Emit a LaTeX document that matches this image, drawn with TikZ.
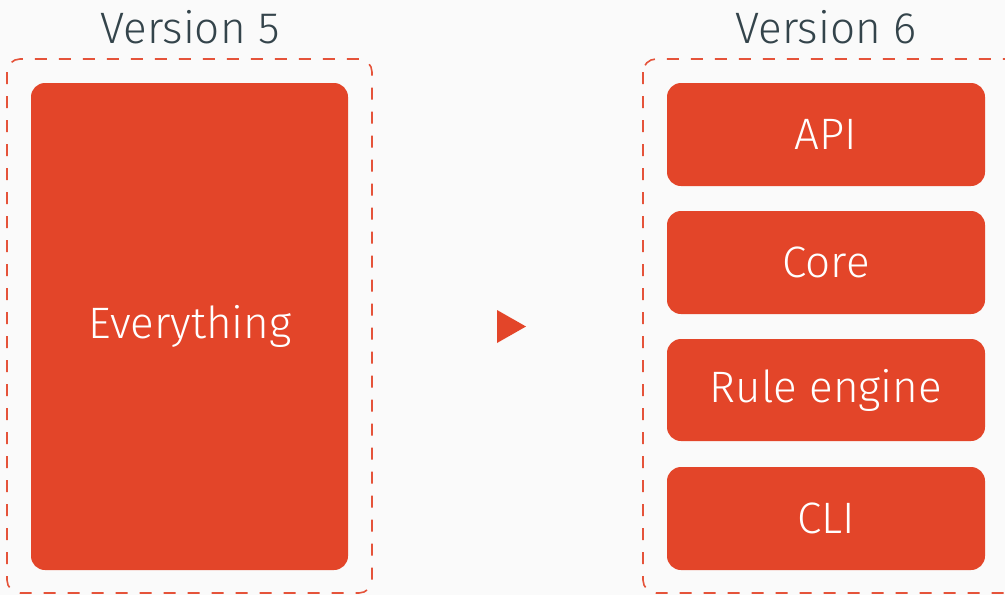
\documentclass[tikz,border=0pt]{standalone}
\usepackage{fontspec}
\setmainfont{Fira Sans}[UprightFont={* Light}]
\usetikzlibrary{positioning}
\definecolor{bg}{HTML}{FAFAFA}
\definecolor{boxred}{HTML}{E34529}
\definecolor{dashred}{HTML}{E5533A}
\definecolor{titlegray}{HTML}{34444B}
\tikzset{
  x=1pt,y=-1pt,
  frame/.style={draw=dashred, line width=1.6pt, dash pattern=on 12pt off 12pt, rounded corners=13pt},
  block/.style={fill=boxred, rounded corners=14pt},
  lbl/.style={text=white, font=\fontsize{44}{48}\selectfont, inner sep=0},
  title/.style={text=titlegray, font=\fontsize{44}{48}\selectfont, inner sep=0},
}
\begin{document}
\begin{tikzpicture}
\fill[bg] (0,0) rectangle (1005,595);
\useasboundingbox (0,0) rectangle (1005,595);
% frames
\draw[frame] (7,59) rectangle (372,593);
\draw[frame] (643,59) rectangle (1030,593);
% left block
\fill[block] (31,83) rectangle (348,570);
\node[lbl] (every) at (190,326) {Everything};
% right blocks
\fill[block] (667,83) rectangle (985,186);
\node[lbl] (api) at (826,134.5) {API};
\fill[block] (667,211) rectangle (985,314);
\node[lbl] (core) at (826,262.5) {Core};
\fill[block] (667,339) rectangle (985,441);
\node[lbl] (rule) at (826,390) {Rule engine};
\fill[block] (667,467) rectangle (985,570);
\node[lbl] (cli) at (826,518.5) {CLI};
% titles
\node[title] (v5) at (190,27) {Version 5};
\node[title] (v6) at (826,27) {Version 6};
% triangle
\fill[boxred] (497,310) -- (526,326.5) -- (497,343) -- cycle;
\end{tikzpicture}
\end{document}
